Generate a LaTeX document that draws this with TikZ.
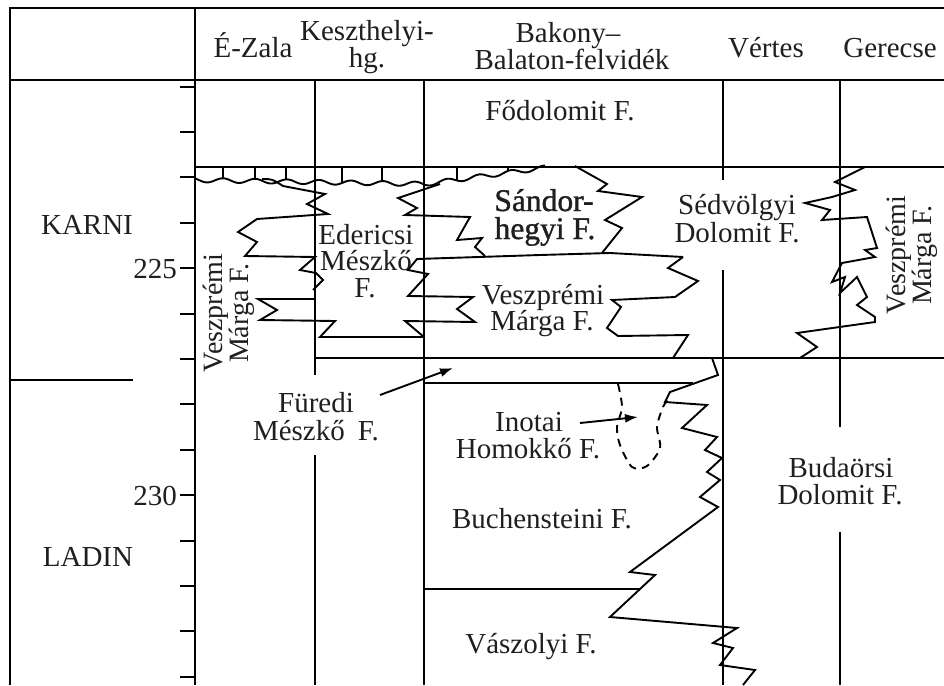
\documentclass[tikz,border=0pt]{standalone}
\usepackage{fontspec}
\setmainfont{Liberation Serif}
\usetikzlibrary{arrows.meta}
\begin{document}
\begin{tikzpicture}[x=1pt,y=-1pt,
  ln/.style={line width=1.9pt, line join=miter, miter limit=6},
  lbl/.style={inner sep=0pt, anchor=base, text=black!88, font=\fontsize{29}{26}\selectfont},
  big/.style={lbl, font=\fontsize{31.5}{28}\selectfont\addfontfeature{FakeBold=1.2}},
  vlbl/.style={inner sep=0pt, anchor=center, rotate=90, align=center, text=black!88,
    font=\fontsize{28}{25}\selectfont},
  arr/.style={ln, -{Latex[length=13pt,width=9pt]}}]
\useasboundingbox (0,0) rectangle (944,685);

% outer frame, header rule and time axis
\draw[ln] (10,685) -- (10,8) -- (944,8);
\draw[ln] (10,80) -- (944,80);
\draw[ln] (195,8) -- (195,685);
\foreach \t in {0,...,13}
  \draw[ln] (180,{86.6+45.4*\t}) -- (195,{86.6+45.4*\t});
\draw[ln] (10,380) -- (133,380);

% column dividers
\draw[ln] (315,80) -- (315,375);
\draw[ln] (315,455) -- (315,685);
\draw[ln] (424,80) -- (424,685);
\draw[ln] (723,80) -- (723,180);
\draw[ln] (723,270) -- (723,685);
\draw[ln] (840,80) -- (840,427);
\draw[ln] (840,532) -- (840,685);

% stage boundaries
\draw[ln] (195,167) -- (944,167);
\draw[ln] (315,358) -- (944,358);

% unconformity below the main dolomite
\draw[ln] plot[domain=195:545, samples=240]
  (\x, {ifthenelse(\x<=425, 180+0.0174*(\x-195), 184-0.136*(\x-425)) + 2.2*sin(11.25*(\x-199))});
\foreach \tx in {223,255,286,342,382,457,508} {
  \pgfmathsetmacro{\ty}{ifthenelse(\tx<=425, 180+0.0174*(\tx-195), 184-0.136*(\tx-425)) + 2.2*sin(11.25*(\tx-199))}
  \draw[ln] (\tx,167) -- (\tx,\ty);
}

% interfingering boundaries, Karnian
\draw[ln] (262,179) .. controls (272,179) .. (283,186) -- (325,194) -- (307,204) -- (328,214)
  -- (257,219) -- (238,232) -- (257,242) -- (245,256) -- (315,257)
  -- (300,270) -- (316,273) -- (323,280) -- (313,290);
\draw[ln] (315,299) -- (258,299) -- (277,310) -- (260,320) -- (335,321) -- (320,337) -- (424,337);
\draw[ln] (440,184) -- (398,198) -- (417,208) -- (405,215) -- (470,217)
  -- (457,240) -- (482,238) -- (475,247) -- (485,256);
\draw[ln] (683,257) -- (610,253) -- (540,255) -- (417,259) -- (408,270) -- (428,274)
  -- (408,296) -- (473,297) -- (457,309) -- (475,322) -- (405,321) -- (424,337);
\draw[ln] (575,166) -- (607,184) -- (598,191) -- (642,197) -- (605,220) -- (622,228) -- (602,253);
\draw[ln] (683,257) -- (668,268) -- (698,281) -- (675,297) -- (612,300) -- (621,307)
  -- (607,328) -- (618,336) -- (688,335) -- (673,358);
\draw[ln] (865,167) -- (835,182) -- (855,190) -- (832,197) -- (805,203) -- (830,210)
  -- (822,220) -- (867,217) -- (877,248) -- (865,250) -- (875,257) -- (842,263)
  -- (832,282) -- (845,277) -- (840,293) -- (857,277) -- (867,297) -- (857,305)
  -- (875,317) -- (875,322) -- (797,333) -- (817,347) -- (800,358);

% Ladinian boundaries
\draw[ln] (712,358) -- (718,375) -- (670,392) -- (665,402) -- (707,405) -- (682,428)
  -- (717,437) -- (705,450) -- (722,458) -- (707,472) -- (720,480) -- (700,497)
  -- (718,507) -- (630,572) -- (655,575) -- (610,617) -- (737,628) -- (713,643)
  -- (733,648) -- (720,665) -- (755,670) -- (743,685);
\draw[ln] (424,383) -- (693,383);
\draw[ln] (424,589) -- (640,589);
\draw[ln, dash pattern=on 8pt off 6pt] plot[smooth] coordinates
  {(618,384) (622,407) (617,427) (620,445) (632,467) (647,466) (660,448) (657,427) (663,407) (668,400)};

% header
\node[lbl] (hEzala) at (253,58) {É-Zala};
\node[lbl] (hKesz1) at (367,41) {Keszthelyi-};
\node[lbl] (hKesz2) at (367,67) {hg.};
\node[lbl] (hBak1) at (568,43) {Bakony–};
\node[lbl] (hBak2) at (572,70) {Balaton-felvidék};
\node[lbl] (hVertes) at (766,58) {Vértes};
\node[lbl] (hGerecse) at (890,58) {Gerecse};

% stages and ages
\node[lbl] (tKarni) at (87,234) {KARNI};
\node[lbl] (tLadin) at (88,566) {LADIN};
\node[lbl, anchor=base east] (t225) at (177,278) {225};
\node[lbl, anchor=base east] (t230) at (177,505) {230};

% formation names
\node[lbl] (fodolomit) at (560,120) {Fődolomit F.};
\node[big] (sandor1) at (544,211) {Sándor-};
\node[big] (sandor2) at (545,239) {hegyi F.};
\node[lbl] (eder1) at (366,244) {Edericsi};
\node[lbl] (eder2) at (366,270) {Mészkő};
\node[lbl] (eder3) at (365,297) {F.};
\node[lbl] (veszB1) at (543,304) {Veszprémi};
\node[lbl] (veszB2) at (542,330) {Márga F.};
\node[lbl] (sed1) at (737,214) {Sédvölgyi};
\node[lbl] (sed2) at (737,242) {Dolomit F.};
\node[vlbl] (veszZ) at (229,313) {Veszprémi\\Márga F.};
\node[vlbl] (veszG) at (912,255) {Veszprémi\\Márga F.};
\node[lbl] (fured1) at (316,412) {Füredi};
\node[lbl] (fured2) at (316,440) {Mészkő\hspace{0.45em}F.};
\node[lbl] (inot1) at (529,431) {Inotai};
\node[lbl] (inot2) at (528,458) {Homokkő F.};
\node[lbl] (buchen) at (542,528) {Buchensteini F.};
\node[lbl] (vaszolyi) at (531,653) {Vászolyi F.};
\node[lbl] (budaor1) at (841,477) {Budaörsi};
\node[lbl] (budaor2) at (840,504) {Dolomit F.};

% pointers
\coordinate (furTail) at (380,395);
\coordinate (furTip) at (453,368);
\coordinate (inoTail) at (580,423);
\coordinate (inoTip) at (638,417);
\draw[arr] (furTail) -- (furTip);
\draw[arr] (inoTail) -- (inoTip);
\end{tikzpicture}
\end{document}
